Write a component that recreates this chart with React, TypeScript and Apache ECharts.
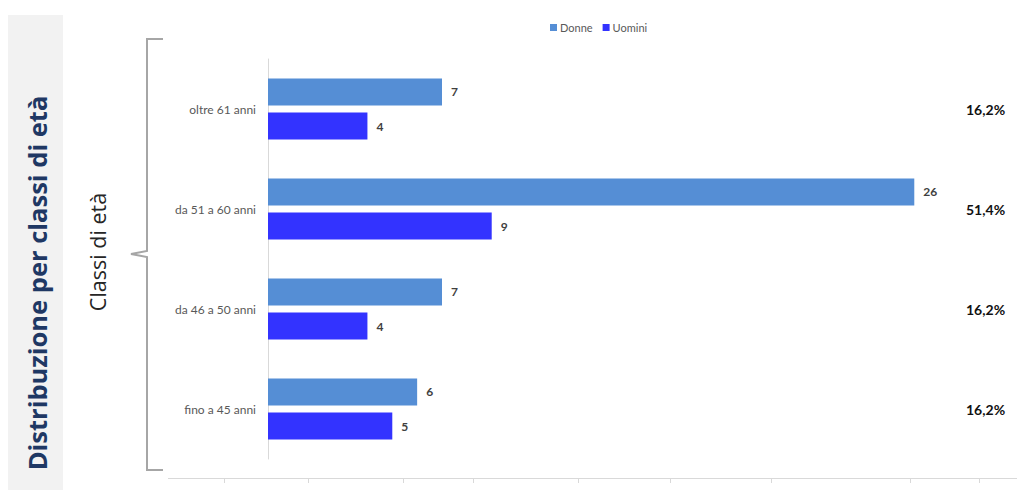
import React, { useEffect, useRef } from "react";
import * as echarts from "echarts";

const categories = ["fino a 45 anni", "da 46 a 50 anni", "da 51 a 60 anni", "oltre 61 anni"];
const donne = [6, 7, 26, 7];
const uomini = [5, 4, 9, 4];
const percentuali = ["16,2%", "16,2%", "51,4%", "16,2%"];
const bottomTicks = [224, 308, 403, 473, 578, 670, 771, 910, 979];

const FONT = "Lato, 'Open Sans', sans-serif";
const WIDE = "'Open Sans', Lato, sans-serif";

export default function App() {
  const ref = useRef<HTMLDivElement>(null);
  useEffect(() => {
    if (!ref.current) return;
    const chart = echarts.init(ref.current, null, { renderer: "svg" });
    const valueLabel = {
      show: true,
      position: "right",
      distance: 9,
      fontFamily: FONT,
      fontSize: 12,
      fontWeight: "bold",
      color: "#404040",
    };
    chart.setOption({
      animation: false,
      backgroundColor: "#ffffff",
      textStyle: { fontFamily: FONT },
      legend: {
        data: ["Donne", "Uomini"],
        left: 545,
        top: 17,
        icon: "rect",
        itemWidth: 7,
        itemHeight: 7,
        itemGap: 10,
        textStyle: { fontFamily: FONT, fontSize: 11, color: "#595959", padding: [0, 0, 0, -2] },
      },
      grid: { left: 268, top: 59, width: 696, height: 400, containLabel: false },
      xAxis: {
        type: "value",
        min: 0,
        max: 28,
        show: false,
      },
      yAxis: [
        {
          type: "category",
          data: categories,
          axisLine: { show: true, lineStyle: { color: "#d9d9d9", width: 1 } },
          axisTick: { show: false },
          axisLabel: { fontFamily: FONT, fontSize: 12, color: "#595959", margin: 12 },
          splitLine: { show: false },
        },
        {
          type: "category",
          position: "right",
          data: percentuali,
          axisLine: { show: false },
          axisTick: { show: false },
          axisLabel: { fontFamily: FONT, fontSize: 14, fontWeight: "bold", color: "#111111", margin: 2 },
          splitLine: { show: false },
        },
      ],
      series: [
        {
          name: "Donne",
          type: "bar",
          data: donne,
          barWidth: 27,
          barGap: "26%",
          itemStyle: { color: "#558ed5" },
          label: valueLabel,
        },
        {
          name: "Uomini",
          type: "bar",
          data: uomini,
          barWidth: 27,
          barGap: "26%",
          itemStyle: { color: "#3333ff" },
          label: valueLabel,
        },
      ],
      graphic: [
        { type: "rect", shape: { x: 8, y: 15, width: 55, height: 475 }, style: { fill: "#f2f2f2" }, z: -1 },
        {
          type: "text",
          x: 37,
          y: 283,
          rotation: Math.PI / 2,
          style: {
            text: "Distribuzione per classi di età",
            fontFamily: WIDE,
            fontSize: 25.5,
            fontWeight: "bold",
            fill: "#1f3864",
            align: "center",
            verticalAlign: "middle",
          },
        },
        {
          type: "text",
          x: 97,
          y: 252,
          rotation: Math.PI / 2,
          style: {
            text: "Classi di età",
            fontFamily: WIDE,
            fontSize: 21.5,
            fill: "#262626",
            align: "center",
            verticalAlign: "middle",
          },
        },
        {
          type: "polyline",
          shape: {
            points: [
              [163, 39],
              [147, 39],
              [147, 251],
              [131, 254],
              [147, 257],
              [147, 470],
              [163, 470],
            ],
          },
          style: { stroke: "#a6a6a6", lineWidth: 2, fill: null },
        },
        {
          type: "line",
          shape: { x1: 168, y1: 478.5, x2: 1017, y2: 478.5 },
          style: { stroke: "#d9d9d9", lineWidth: 1 },
        },
        ...bottomTicks.map((x) => ({
          type: "line",
          shape: { x1: x + 0.5, y1: 479, x2: x + 0.5, y2: 483 },
          style: { stroke: "#d9d9d9", lineWidth: 1 },
        })),
      ],
    });
    return () => chart.dispose();
  }, []);
  return (
    <div
      ref={ref}
      style={{ position: "fixed", left: 0, top: 0, width: 1017, height: 490 }}
    />
  );
}
